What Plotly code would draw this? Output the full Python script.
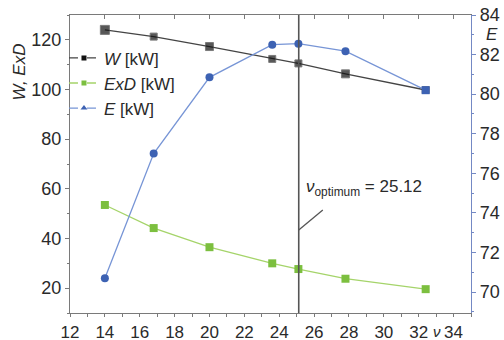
import plotly.graph_objects as go

# Data
nu = [14.0, 16.8, 20.0, 23.6, 25.1, 27.8, 32.4]
W = [124.0, 121.3, 117.3, 112.3, 110.5, 106.3, 99.8]
ExD = [53.5, 44.2, 36.5, 30.0, 27.7, 23.8, 19.6]
E = [70.7, 77.0, 80.85, 82.5, 82.55, 82.17, 80.2]
nu_opt = 25.12
E_symbols = ["circle", "circle", "circle", "circle", "circle", "circle", "square"]

FONT = "Liberation Sans, Arial, Helvetica, sans-serif"
AX = "#7a7a7a"
BLUE_AX = "#7489c4"
W_COL = "#111111"
W_LINE = "#444444"
G_COL = "#7cbf3f"
G_LINE = "#a5d46a"
B_COL = "#3d62b3"
B_LINE = "#7795d6"
TXT = "#2a2a2a"

fig = go.Figure()

fig.add_trace(go.Scatter(x=nu, y=W, mode="lines+markers", showlegend=False,
                         line=dict(color=W_LINE, width=1.3),
                         marker=dict(symbol="square", size=[9, 7, 8, 7, 7, 8, 7], color=W_COL)))
fig.add_trace(go.Scatter(x=nu, y=ExD, mode="lines+markers", showlegend=False,
                         line=dict(color=G_LINE, width=1.3),
                         marker=dict(symbol="square", size=8, color=G_COL)))
fig.add_trace(go.Scatter(x=nu, y=E, mode="lines+markers", showlegend=False, yaxis="y2",
                         line=dict(color=B_LINE, width=1.3),
                         marker=dict(symbol=E_symbols, size=8, color=B_COL)))

# legend-only entries with dashed lines
fig.add_trace(go.Scatter(x=[None], y=[None], mode="lines+markers", name="<i>W</i> [kW]",
                         line=dict(color=W_LINE, width=1.3, dash="dash"),
                         marker=dict(symbol="square", size=5, color=W_COL)))
fig.add_trace(go.Scatter(x=[None], y=[None], mode="lines+markers", name="<i>ExD</i> [kW]",
                         line=dict(color=G_LINE, width=1.3, dash="dash"),
                         marker=dict(symbol="square", size=5, color=G_COL)))
fig.add_trace(go.Scatter(x=[None], y=[None], mode="lines+markers", name="<i>E</i> [kW]",
                         line=dict(color=B_LINE, width=1.3, dash="dash"),
                         marker=dict(symbol="triangle-up", size=6, color=B_COL)))

fig.update_layout(
    width=504, height=340,
    margin=dict(l=70, r=33, t=15, b=27),
    paper_bgcolor="white", plot_bgcolor="white",
    font=dict(family=FONT, size=18, color=TXT),
    showlegend=True,
    legend=dict(x=-0.015, y=0.915, xanchor="left", yanchor="top",
                bgcolor="rgba(0,0,0,0)", font=dict(size=17, color=TXT),
                tracegroupgap=0, itemwidth=30),
    xaxis=dict(range=[12, 35], dtick=2, tick0=12, ticks="outside", ticklen=3,
               tickfont=dict(size=17),
               showline=True, linecolor=AX, linewidth=1.2, tickcolor=AX,
               showgrid=False, zeroline=False, automargin=False,
               minor=dict(dtick=1, ticks="outside", ticklen=3, tickcolor=AX, showgrid=False)),
    xaxis2=dict(range=[12, 35], dtick=2, tick0=12, overlaying="x", side="top",
                ticks="inside", ticklen=4, showticklabels=False,
                showline=True, linecolor=AX, linewidth=1.2, tickcolor=AX,
                showgrid=False, zeroline=False, automargin=False),
    yaxis=dict(range=[10, 130], dtick=20, tick0=0, ticks="outside", ticklen=4,
               showline=True, linecolor=AX, linewidth=1.2, tickcolor=AX,
               showgrid=False, zeroline=False, automargin=False,
               minor=dict(dtick=10, ticks="outside", ticklen=2, tickcolor=AX, showgrid=False)),
    yaxis2=dict(range=[68.94, 84], dtick=2, tick0=70, overlaying="y", side="right",
                ticks="outside", ticklen=4, showline=True, linecolor=BLUE_AX,
                linewidth=1.2, tickcolor=BLUE_AX, showgrid=False, zeroline=False,
                automargin=False,
                minor=dict(dtick=1, ticks="outside", ticklen=2, tickcolor=BLUE_AX, showgrid=False)),
)

# dummy trace to activate xaxis2
fig.add_trace(go.Scatter(x=[None], y=[None], xaxis="x2", showlegend=False))

# optimum vertical line
fig.add_shape(type="line", xref="x", yref="paper", x0=nu_opt, x1=nu_opt, y0=0, y1=1,
              line=dict(color="#555555", width=1.6))
# leader line
fig.add_shape(type="line", xref="x", yref="y", x0=nu_opt, x1=26.5, y0=43.4, y1=51.5,
              line=dict(color="#555555", width=1.3))
fig.add_annotation(x=25.4, y=60.3, xref="x", yref="y", xanchor="left", yanchor="middle",
                   text="<i>ν</i><sub>optimum</sub> = 25.12", showarrow=False,
                   font=dict(size=17, color=TXT))

# axis titles
fig.add_annotation(x=-0.125, y=0.81, xref="paper", yref="paper", text="<i>W, ExD</i>",
                   textangle=-90, showarrow=False, xanchor="center", yanchor="middle",
                   font=dict(size=17, color=TXT))
fig.add_annotation(x=1.052, y=0.933, xref="paper", yref="paper", text="<i>E</i>",
                   showarrow=False, xanchor="center", yanchor="middle",
                   font=dict(size=17, color=TXT))
fig.add_annotation(x=0.915, y=-0.062, xref="paper", yref="paper", text="<i>ν</i>",
                   showarrow=False, xanchor="center", yanchor="middle",
                   font=dict(size=15, color=TXT))

fig.write_html("out.html")
